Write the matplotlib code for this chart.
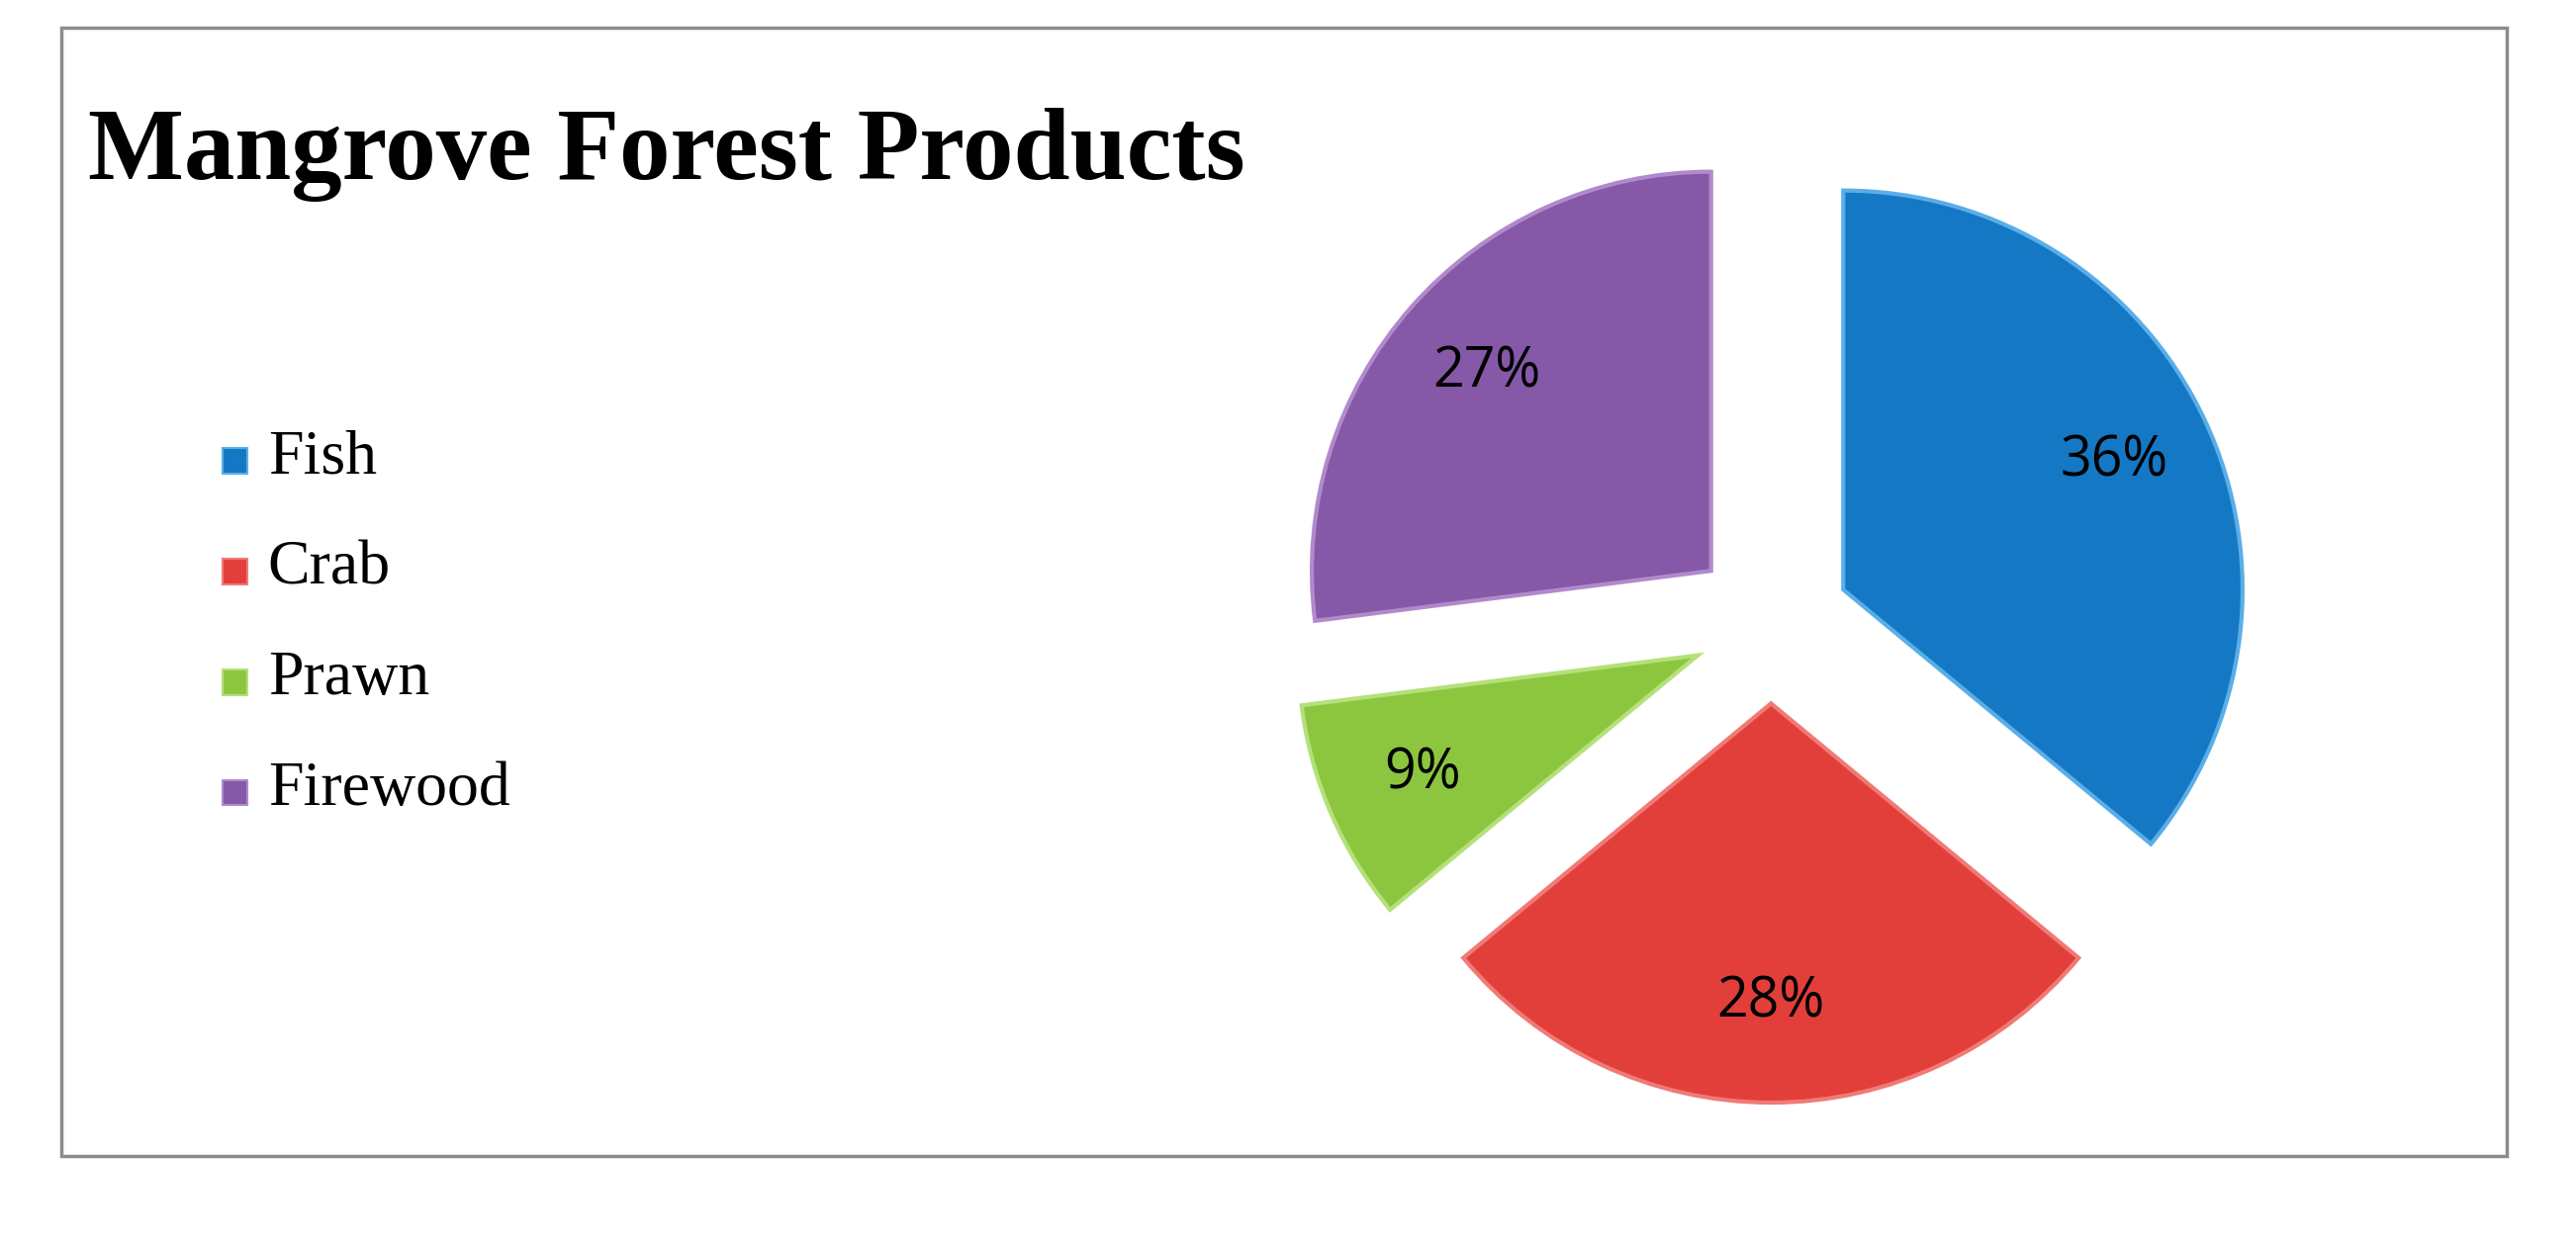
import matplotlib.pyplot as plt
from matplotlib.patches import Rectangle

labels = ["Fish", "Crab", "Prawn", "Firewood"]
shares = [36, 28, 9, 27]
colors = ["#1578C4", "#E23F3B", "#8CC63F", "#8558A8"]
edges = ["#5AAEE8", "#F07A76", "#B5E07A", "#B08ACB"]

fig = plt.figure(figsize=(26.04, 12.6), dpi=100)

# outer frame
fig.patches.append(Rectangle((0.024, 0.072), 0.949, 0.906, transform=fig.transFigure,
                             fill=False, edgecolor="#8C8C8C", linewidth=2.5))

fig.text(0.034, 0.856, "Mangrove Forest Products", family="Liberation Serif",
         fontweight="bold", fontsize=74, ha="left", va="baseline")

# legend drawn by hand
for i, (lab, col) in enumerate(zip(labels, colors)):
    y = 0.632 - i * 0.0888
    fig.patches.append(Rectangle((0.0865, y - 0.012), 0.0095, 0.0205, transform=fig.transFigure,
                                 facecolor=col, edgecolor=edges[i], linewidth=1.5))
    fig.text(0.104, y, lab, family="Liberation Serif", fontsize=46, va="center", ha="left")

ax = fig.add_axes([0.486, 0.083, 0.403, 0.833])
wedges, texts, autotexts = ax.pie(
    shares, colors=colors, startangle=90, counterclock=False,
    explode=[0.2] * len(shares), autopct="%d%%", pctdistance=0.75,
    wedgeprops=dict(edgecolor="white", linewidth=0),
    textprops=dict(fontsize=40, family="Open Sans", color="black"))
for w, e in zip(wedges, edges):
    w.set_edgecolor(e)
    w.set_linewidth(3)
ax.set_xlim(-1.3, 1.3)
ax.set_ylim(-1.3, 1.3)
ax.set_aspect("equal")
ax.axis("off")

fig.savefig("out.png", dpi=100)
